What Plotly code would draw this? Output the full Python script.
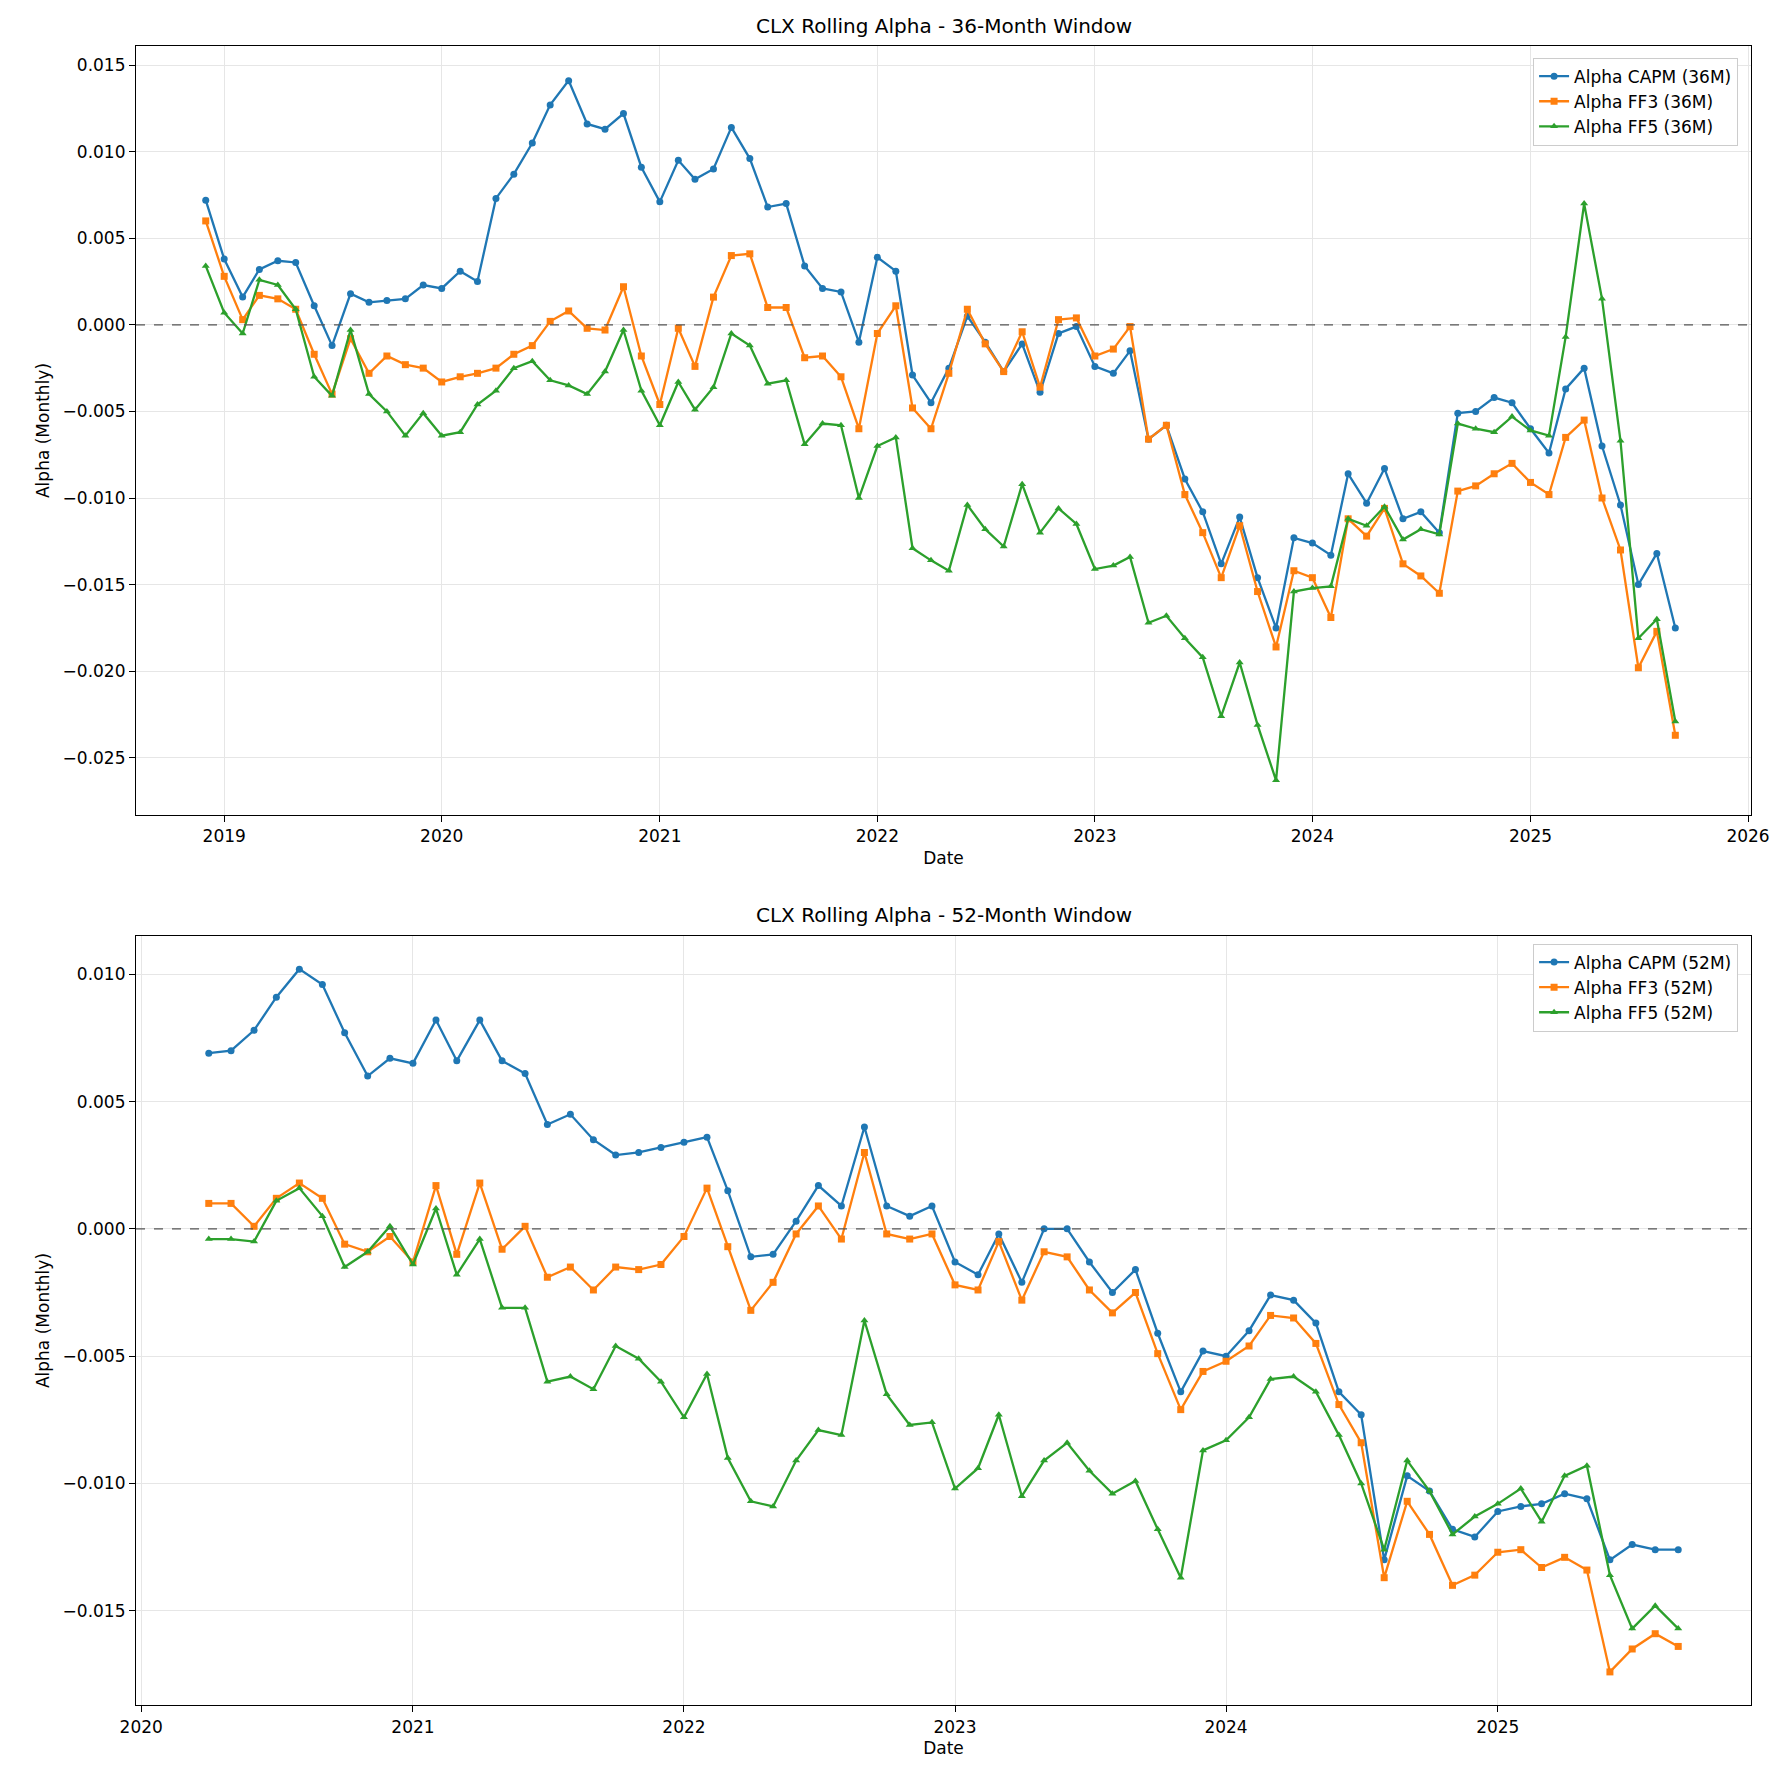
import pandas as pd
import plotly.graph_objects as go
from plotly.subplots import make_subplots

dates36 = pd.date_range("2018-12-01", periods=82, freq="MS")
dates52 = pd.date_range("2020-04-01", periods=66, freq="MS")

capm36 = [0.0072,0.0038,0.0016,0.0032,0.0037,0.0036,0.0011,-0.0012,0.0018,0.0013,
0.0014,0.0015,0.0023,0.0021,0.0031,0.0025,0.0073,0.0087,0.0105,0.0127,
0.0141,0.0116,0.0113,0.0122,0.0091,0.0071,0.0095,0.0084,0.0090,0.0114,
0.0096,0.0068,0.0070,0.0034,0.0021,0.0019,-0.0010,0.0039,0.0031,-0.0029,
-0.0045,-0.0025,0.0005,-0.0010,-0.0027,-0.0011,-0.0039,-0.0005,-0.0001,-0.0024,
-0.0028,-0.0015,-0.0066,-0.0058,-0.0089,-0.0108,-0.0138,-0.0111,-0.0146,-0.0175,
-0.0123,-0.0126,-0.0133,-0.0086,-0.0103,-0.0083,-0.0112,-0.0108,-0.0120,-0.0051,
-0.0050,-0.0042,-0.0045,-0.0060,-0.0074,-0.0037,-0.0025,-0.0070,-0.0104,-0.0150,
-0.0132,-0.0175]
ff3_36 = [0.0060,0.0028,0.0003,0.0017,0.0015,0.0009,-0.0017,-0.0040,-0.0008,-0.0028,
-0.0018,-0.0023,-0.0025,-0.0033,-0.0030,-0.0028,-0.0025,-0.0017,-0.0012,0.0002,
0.0008,-0.0002,-0.0003,0.0022,-0.0018,-0.0046,-0.0002,-0.0024,0.0016,0.0040,
0.0041,0.0010,0.0010,-0.0019,-0.0018,-0.0030,-0.0060,-0.0005,0.0011,-0.0048,
-0.0060,-0.0028,0.0009,-0.0011,-0.0027,-0.0004,-0.0036,0.0003,0.0004,-0.0018,
-0.0014,-0.0001,-0.0066,-0.0058,-0.0098,-0.0120,-0.0146,-0.0116,-0.0154,-0.0186,
-0.0142,-0.0146,-0.0169,-0.0112,-0.0122,-0.0106,-0.0138,-0.0145,-0.0155,-0.0096,
-0.0093,-0.0086,-0.0080,-0.0091,-0.0098,-0.0065,-0.0055,-0.0100,-0.0130,-0.0198,
-0.0177,-0.0237]
ff5_36 = [0.0034,0.0007,-0.0005,0.0026,0.0023,0.0009,-0.0030,-0.0041,-0.0003,-0.0040,
-0.0050,-0.0064,-0.0051,-0.0064,-0.0062,-0.0046,-0.0038,-0.0025,-0.0021,-0.0032,
-0.0035,-0.0040,-0.0027,-0.0003,-0.0038,-0.0058,-0.0033,-0.0049,-0.0036,-0.0005,
-0.0012,-0.0034,-0.0032,-0.0069,-0.0057,-0.0058,-0.0100,-0.0070,-0.0065,-0.0129,
-0.0136,-0.0142,-0.0104,-0.0118,-0.0128,-0.0092,-0.0120,-0.0106,-0.0115,-0.0141,
-0.0139,-0.0134,-0.0172,-0.0168,-0.0181,-0.0192,-0.0226,-0.0195,-0.0231,-0.0263,
-0.0154,-0.0152,-0.0151,-0.0112,-0.0116,-0.0105,-0.0124,-0.0118,-0.0121,-0.0057,
-0.0060,-0.0062,-0.0053,-0.0061,-0.0064,-0.0007,0.0070,0.0015,-0.0067,-0.0181,
-0.0170,-0.0229]

capm52 = [0.0069,0.0070,0.0078,0.0091,0.0102,0.0096,0.0077,0.0060,0.0067,0.0065,
0.0082,0.0066,0.0082,0.0066,0.0061,0.0041,0.0045,0.0035,0.0029,0.0030,
0.0032,0.0034,0.0036,0.0015,-0.0011,-0.0010,0.0003,0.0017,0.0009,0.0040,
0.0009,0.0005,0.0009,-0.0013,-0.0018,-0.0002,-0.0021,0.0000,0.0000,-0.0013,
-0.0025,-0.0016,-0.0041,-0.0064,-0.0048,-0.0050,-0.0040,-0.0026,-0.0028,-0.0037,
-0.0064,-0.0073,-0.0130,-0.0097,-0.0103,-0.0118,-0.0121,-0.0111,-0.0109,-0.0108,
-0.0104,-0.0106,-0.0130,-0.0124,-0.0126,-0.0126]
ff3_52 = [0.0010,0.0010,0.0001,0.0012,0.0018,0.0012,-0.0006,-0.0009,-0.0003,-0.0013,
0.0017,-0.0010,0.0018,-0.0008,0.0001,-0.0019,-0.0015,-0.0024,-0.0015,-0.0016,
-0.0014,-0.0003,0.0016,-0.0007,-0.0032,-0.0021,-0.0002,0.0009,-0.0004,0.0030,
-0.0002,-0.0004,-0.0002,-0.0022,-0.0024,-0.0005,-0.0028,-0.0009,-0.0011,-0.0024,
-0.0033,-0.0025,-0.0049,-0.0071,-0.0056,-0.0052,-0.0046,-0.0034,-0.0035,-0.0045,
-0.0069,-0.0084,-0.0137,-0.0107,-0.0120,-0.0140,-0.0136,-0.0127,-0.0126,-0.0133,
-0.0129,-0.0134,-0.0174,-0.0165,-0.0159,-0.0164]
ff5_52 = [-0.0004,-0.0004,-0.0005,0.0011,0.0016,0.0005,-0.0015,-0.0009,0.0001,-0.0014,
0.0008,-0.0018,-0.0004,-0.0031,-0.0031,-0.0060,-0.0058,-0.0063,-0.0046,-0.0051,
-0.0060,-0.0074,-0.0057,-0.0090,-0.0107,-0.0109,-0.0091,-0.0079,-0.0081,-0.0036,
-0.0065,-0.0077,-0.0076,-0.0102,-0.0094,-0.0073,-0.0105,-0.0091,-0.0084,-0.0095,
-0.0104,-0.0099,-0.0118,-0.0137,-0.0087,-0.0083,-0.0074,-0.0059,-0.0058,-0.0064,
-0.0081,-0.0100,-0.0126,-0.0091,-0.0103,-0.0120,-0.0113,-0.0108,-0.0102,-0.0115,
-0.0097,-0.0093,-0.0136,-0.0157,-0.0148,-0.0157]

colors = ["#1f77b4", "#ff7f0e", "#2ca02c"]
symbols = ["circle", "square", "triangle-up"]
font = "DejaVu Sans"

fig = make_subplots(rows=2, cols=1, vertical_spacing=0.073)
sets = [(1, dates36, [capm36, ff3_36, ff5_36], "36M"), (2, dates52, [capm52, ff3_52, ff5_52], "52M")]
names = ["Alpha CAPM", "Alpha FF3", "Alpha FF5"]
for row, d, series, tag in sets:
    for i, s in enumerate(series):
        fig.add_trace(go.Scatter(x=d, y=s, mode="lines+markers", name=f"{names[i]} ({tag})",
                                 line=dict(color=colors[i], width=2.3),
                                 marker=dict(symbol=symbols[i], size=7, color=colors[i]),
                                 legend="legend" if row == 1 else "legend2"), row=row, col=1)
    fig.add_hline(y=0, line=dict(color="#555", width=1.2, dash="dash"), row=row, col=1)

axis_common = dict(showline=True, linecolor="black", linewidth=1.2, mirror=True, ticks="outside",
                   ticklen=6, tickcolor="black", showgrid=True, gridcolor="#e6e6e6", zeroline=False,
                   tickfont=dict(size=17, color="black"), title_font=dict(size=17, color="black"))
fig.update_xaxes(**axis_common, title_text="Date", title_standoff=6, dtick="M12", tickformat="%Y")
fig.update_yaxes(**axis_common, title_text="Alpha (Monthly)", tickformat=".3f", title_standoff=8)
fig.update_xaxes(range=["2018-08-06", "2026-01-06"], row=1, col=1)
fig.update_xaxes(range=["2019-12-25", "2025-12-08"], row=2, col=1)
fig.update_yaxes(range=[-0.0283, 0.0161], dtick=0.005, row=1, col=1)
fig.update_yaxes(range=[-0.0187, 0.0115], dtick=0.005, row=2, col=1)

leg = dict(xanchor="right", yanchor="top", bgcolor="white", bordercolor="#ccc", borderwidth=1,
           font=dict(size=17, color="black"))
fig.update_layout(
    width=1783, height=1782, plot_bgcolor="white", paper_bgcolor="white",
    font=dict(family=font, color="black"),
    margin=dict(l=128, r=40, t=38, b=85),
    legend=dict(**leg, x=0.992, y=0.993),
    legend2=dict(**leg, x=0.992, y=0.459),
    annotations=[
        dict(text="CLX Rolling Alpha - 36-Month Window", xref="paper", yref="paper", x=0.5, y=1.0,
             yanchor="bottom", showarrow=False, yshift=6, font=dict(size=20)),
        dict(text="CLX Rolling Alpha - 52-Month Window", xref="paper", yref="paper", x=0.5, y=0.464,
             yanchor="bottom", showarrow=False, yshift=6, font=dict(size=20)),
    ],
)
fig.write_html("out.html")
